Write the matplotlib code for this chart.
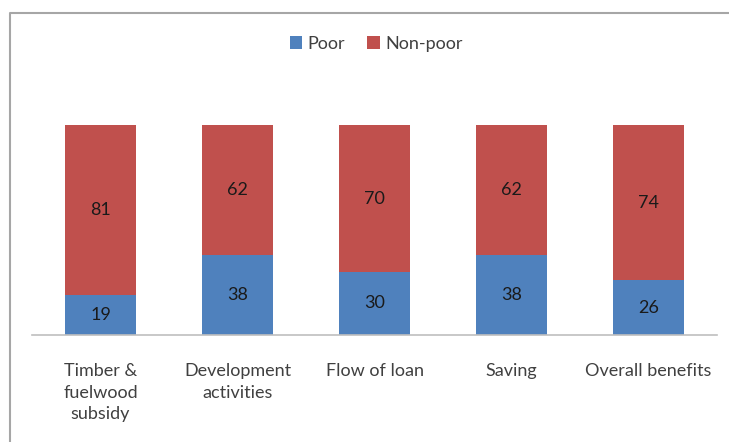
import numpy as np
import matplotlib.pyplot as plt
from matplotlib.lines import Line2D

categories = ["Timber &\nfuelwood\nsubsidy", "Development\nactivities", "Flow of loan", "Saving", "Overall benefits"]
poor = [19, 38, 30, 38, 26]
non_poor = [81, 62, 70, 62, 74]

plt.rcParams['font.family'] = ['Lato', 'DejaVu Sans']

fig = plt.figure(figsize=(7.29, 4.42), dpi=100)
fig.patch.set_facecolor('white')
ax = fig.add_axes([32/729, 1 - 335/442, (717 - 32)/729, (335 - 125)/442])

x = np.arange(len(categories))
w = 0.52
b1 = ax.bar(x, poor, w, color='#4F81BD', label='Poor')
b2 = ax.bar(x, non_poor, w, bottom=poor, color='#C0504D', label='Non-poor')
ax.bar_label(b1, label_type='center', fontsize=13, color='#1a1a1a')
ax.bar_label(b2, label_type='center', fontsize=13, color='#1a1a1a')

ax.set_xlim(-0.5, 4.5)
ax.set_ylim(0, 100)
ax.set_xticks(x)
ax.set_xticklabels(categories, fontsize=13, color='#404040', linespacing=1.45)
ax.tick_params(axis='x', length=0, pad=20)
ax.set_yticks([])
for s in ['top', 'right', 'left']:
    ax.spines[s].set_visible(False)
ax.spines['bottom'].set_color('#BFBFBF')
ax.spines['bottom'].set_linewidth(1.2)

fig.legend(loc='center', bbox_to_anchor=(376/729, 1 - 44/442), ncol=2, frameon=False,
           fontsize=13, handlelength=0.7, handleheight=0.7, handletextpad=0.3,
           columnspacing=1.2, labelcolor='#404040')

# outer chart frame: only left and top edges fall inside the picture
fx, fy = 10/729, 1 - 13/442
fig.add_artist(Line2D([fx, fx, 1.0], [0.0, fy, fy], transform=fig.transFigure,
                      color='#A6A6A6', linewidth=1.5))

fig.savefig('out.png', dpi=100)
